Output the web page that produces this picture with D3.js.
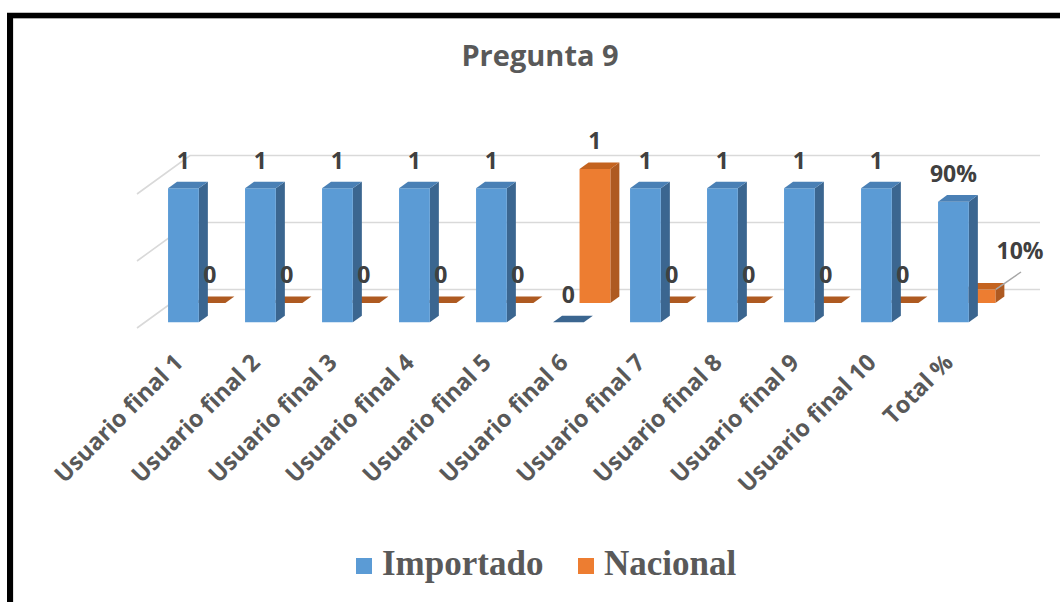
<!DOCTYPE html>
<html>
<head>
<meta charset="utf-8">
<script src="https://cdn.jsdelivr.net/npm/d3@7"></script>
<style>
  html, body { margin: 0; padding: 0; background: #fff; }
  svg { display: block; }
</style>
</head>
<body>
<svg id="chart" width="1060" height="602"></svg>
<script>
// Chart data
const categories = ["Usuario final 1", "Usuario final 2", "Usuario final 3", "Usuario final 4",
  "Usuario final 5", "Usuario final 6", "Usuario final 7", "Usuario final 8",
  "Usuario final 9", "Usuario final 10", "Total %"];
const importado = [1, 1, 1, 1, 1, 0, 1, 1, 1, 1, 0.9];
const nacional  = [0, 0, 0, 0, 0, 1, 0, 0, 0, 0, 0.1];
const seriesNames = ["Importado", "Nacional"];
const gridValues = [0, 0.5, 1];
const titleText = "Pregunta 9";

const svg = d3.select("#chart");

// Frame around the chart
svg.append("rect").attr("x", 13).attr("y", 18).attr("width", 1060).attr("height", 600)
  .attr("fill", "none").attr("stroke", "#c8c8c8").attr("stroke-width", 1);
svg.append("line").attr("x1", 7).attr("x2", 1060).attr("y1", 15.5).attr("y2", 15.5)
  .attr("stroke", "#000").attr("stroke-width", 5.5);
svg.append("line").attr("x1", 10).attr("x2", 10).attr("y1", 13).attr("y2", 602)
  .attr("stroke", "#000").attr("stroke-width", 6);

// Oblique 3D projection: front plane scales plus a depth offset
const x = d3.scaleBand().domain(categories).range([137, 984]).paddingInner(0.6).paddingOuter(0.3);
const y = d3.scaleLinear().domain([0, 1]).range([328, 194]);
const depthX = d3.scaleLinear().domain([0, 1]).range([0, 53]);
const depthY = d3.scaleLinear().domain([0, 1]).range([0, -38.5]);
const P = (px, v, d) => [px + depthX(d), y(v) + depthY(d)];

const wallLeft = x.range()[0], wallRight = x.range()[1];

// Gridlines on side wall and back wall
const grid = svg.append("g").attr("stroke", "#d9d9d9").attr("stroke-width", 1.6).attr("fill", "none");
gridValues.forEach(v => {
  const a = P(wallLeft, v, 0), b = P(wallLeft, v, 1), c = P(wallRight + 3, v, 1);
  grid.append("path").attr("d", d3.line()([a, b, c]));
});

const barDepth = 0.17;
const rows = [
  { name: "Nacional", values: nacional, d: 0.65, front: "#ED7D31", side: "#AE5A21", top: "#C4631F" },
  { name: "Importado", values: importado, d: 0.15, front: "#5B9BD5", side: "#3B6690", top: "#4A80B5" }
];

function drawBar(g, cat, v, row) {
  const x0 = x(cat), x1 = x0 + x.bandwidth();
  const d0 = row.d, d1 = row.d + barDepth;
  const poly = pts => g.append("polygon").attr("points", pts.map(p => p.join(",")).join(" "));
  if (v > 0) {
    poly([P(x1, 0, d0), P(x1, 0, d1), P(x1, v, d1), P(x1, v, d0)]).attr("fill", row.side);
    poly([P(x0, 0, d0), P(x1, 0, d0), P(x1, v, d0), P(x0, v, d0)]).attr("fill", row.front);
  }
  poly([P(x0, v, d0), P(x1, v, d0), P(x1, v, d1), P(x0, v, d1)]).attr("fill", v > 0 ? row.top : row.side);
}

// Back row first, then front row
rows.forEach(row => {
  const g = svg.append("g").attr("class", "row-" + row.name);
  categories.forEach((c, i) => drawBar(g, c, row.values[i], row));
});

// Data labels
const fmt = (v, i) => categories[i] === "Total %" ? d3.format(".0%")(v) : d3.format("d")(v);
const labels = svg.append("g")
  .attr("font-family", "'Open Sans', sans-serif").attr("font-weight", "bold")
  .attr("font-size", 23).attr("fill", "#404040").attr("text-anchor", "middle");

rows.forEach(row => {
  categories.forEach((c, i) => {
    const v = row.values[i];
    const cx = x(c) + x.bandwidth() / 2;
    let [lx, ly] = P(cx, v, row.d + barDepth);
    let px = P(cx, v, row.d)[0];
    ly -= 13;
    if (row.name === "Nacional" && c === "Total %") {
      // label moved aside with a leader line
      const a = P(x(c) + x.bandwidth(), v, row.d + barDepth / 2);
      svg.append("line").attr("x1", a[0] - 4).attr("y1", a[1] + 3).attr("x2", 1021).attr("y2", 272)
        .attr("stroke", "#a6a6a6").attr("stroke-width", 1.5);
      labels.append("text").attr("x", 1020).attr("y", 259).text(fmt(v, i));
    } else {
      labels.append("text").attr("x", px).attr("y", ly).text(fmt(v, i));
    }
  });
});

// Category axis labels, rotated
const axisG = svg.append("g")
  .attr("font-family", "'Open Sans', sans-serif").attr("font-weight", "bold")
  .attr("font-size", 23.5).attr("fill", "#595959").attr("text-anchor", "end");
categories.forEach(c => {
  const cx = x(c) + x.bandwidth() / 2 + 9;
  axisG.append("text")
    .attr("transform", `translate(${cx},364) rotate(-45)`)
    .text(c);
});

// Title
svg.append("text").attr("x", 540).attr("y", 66).attr("text-anchor", "middle")
  .attr("font-family", "'Open Sans', sans-serif").attr("font-weight", "bold")
  .attr("font-size", 29).attr("fill", "#595959").text(titleText);

// Legend
const legendColors = ["#5B9BD5", "#ED7D31"];
const legendX = [356, 578];
const legend = svg.append("g");
seriesNames.forEach((n, i) => {
  legend.append("rect").attr("x", legendX[i]).attr("y", 558).attr("width", 16).attr("height", 16)
    .attr("fill", legendColors[i]);
  legend.append("text").attr("x", legendX[i] + 26).attr("y", 575)
    .attr("font-family", "'Liberation Serif', serif").attr("font-weight", "bold")
    .attr("font-size", 35).attr("fill", "#595959").text(n);
});
</script>
</body>
</html>
